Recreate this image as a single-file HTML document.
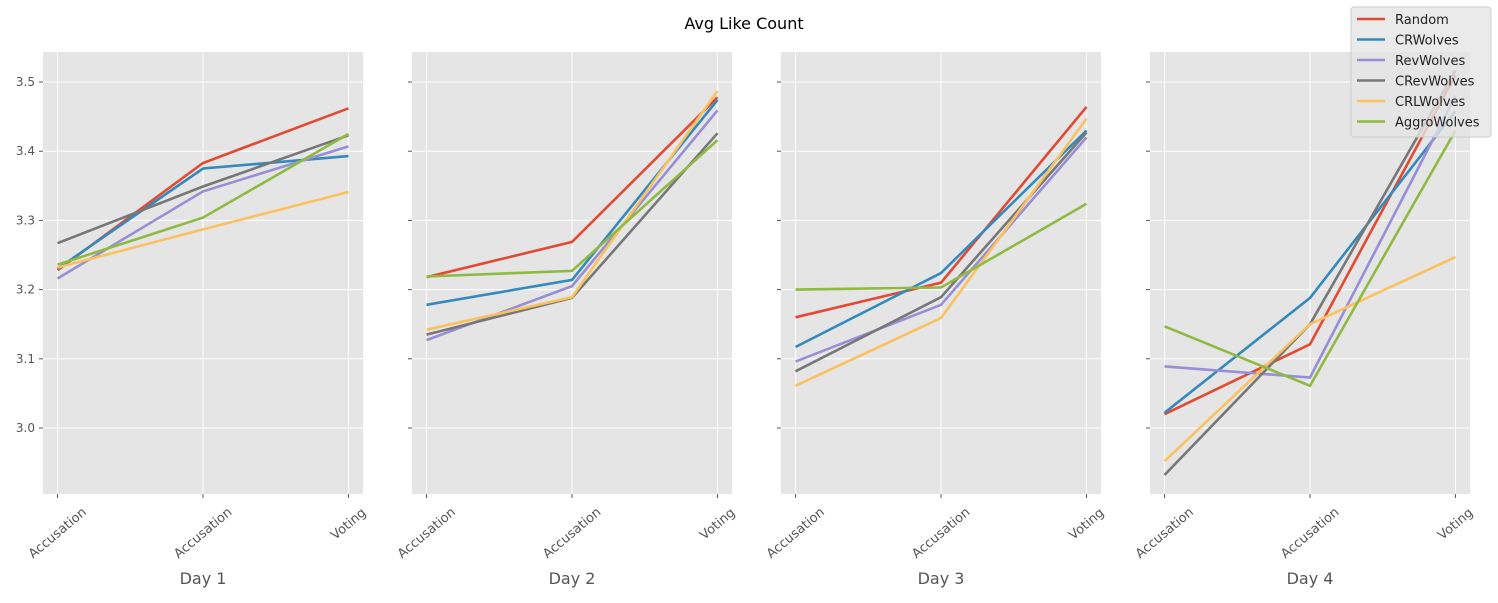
<!DOCTYPE html>
<html><head><meta charset="utf-8"><style>
body{margin:0;background:#fff;font-family:"Liberation Sans","DejaVu Sans",sans-serif}
</style></head><body>
<svg id="chart" width="1498" height="598" xmlns="http://www.w3.org/2000/svg" font-family="DejaVu Sans, Liberation Sans, sans-serif"></svg>
<script>
const seriesNames=["Random","CRWolves","RevWolves","CRevWolves","CRLWolves","AggroWolves"];
const colors=["#E24A33","#348ABD","#988ED5","#777777","#FBC15E","#8EBA42"];
const categories=["Accusation","Accusation","Voting"];
const days=["Day 1","Day 2","Day 3","Day 4"];
const yTicks=[3.0,3.1,3.2,3.3,3.4,3.5];
const day1=[[3.228,3.383,3.462],[3.230,3.375,3.393],[3.216,3.342,3.407],[3.267,3.349,3.423],[3.232,3.287,3.341],[3.236,3.304,3.425]];
const day2=[[3.218,3.269,3.478],[3.178,3.214,3.474],[3.127,3.205,3.459],[3.135,3.188,3.426],[3.142,3.189,3.487],[3.219,3.227,3.416]];
const day3=[[3.160,3.210,3.464],[3.117,3.224,3.430],[3.096,3.178,3.420],[3.082,3.189,3.427],[3.061,3.159,3.447],[3.200,3.203,3.324]];
const day4=[[3.020,3.121,3.510],[3.022,3.188,3.458],[3.089,3.073,3.480],[2.932,3.150,3.517],[2.952,3.150,3.247],[3.147,3.061,3.430]];
const allDays=[day1,day2,day3,day4];

const svg=document.getElementById('chart');
const NS="http://www.w3.org/2000/svg";
function mk(t,a,p){const e=document.createElementNS(NS,t);for(const k in a)e.setAttribute(k,a[k]);(p||svg).appendChild(e);return e;}
const panelX=[43,412,781,1150],PW=320,PT=52,PB=494;
const yMin=2.9046,yMax=3.5434;
function yS(v){return PB-(v-yMin)/(yMax-yMin)*(PB-PT);}
function xS(i,p){return panelX[p]+(i+0.1)/2.2*PW;}

const title=mk('text',{x:744,y:29,'text-anchor':'middle','font-size':16,fill:'#000'});
title.textContent='Avg Like Count';



allDays.forEach((data,p)=>{
  const g=mk('g',{});
  
  
  mk('rect',{x:panelX[p],y:PT,width:PW,height:PB-PT,fill:'#E5E5E5'},g);
  yTicks.forEach(t=>{
    const y=yS(t);
    mk('line',{x1:panelX[p],x2:panelX[p]+PW,y1:y,y2:y,stroke:'#fff','stroke-width':1},g);
    mk('line',{x1:panelX[p]-4,x2:panelX[p],y1:y,y2:y,stroke:'#555','stroke-width':1},g);
    if(p===0){const tl=mk('text',{x:panelX[p]-8,y:y+4,'text-anchor':'end','font-size':12,fill:'#555'},g);tl.textContent=t.toFixed(1);
      
      }
  });
  categories.forEach((c,i)=>{
    const x=xS(i,p);
    mk('line',{x1:x,x2:x,y1:PT,y2:PB,stroke:'#fff','stroke-width':1},g);
    mk('line',{x1:x,x2:x,y1:PB,y2:PB+4,stroke:'#555','stroke-width':1},g);
    const cy=c==='Voting'?PB+30:PB+39;
    const tl=mk('text',{x:x,y:cy+4,'text-anchor':'middle','font-size':13,fill:'#555',transform:`rotate(-40 ${x} ${cy})`},g);
    tl.textContent=c;
    
    
  });
  const xl=mk('text',{x:panelX[p]+PW/2,y:584,'text-anchor':'middle','font-size':16,fill:'#555'},g);
  xl.textContent=days[p];
  
  
  data.forEach((s,k)=>{
    const pts=s.map((v,i)=>xS(i,p).toFixed(1)+','+yS(v).toFixed(1)).join(' ');
    const l=mk('polyline',{points:pts,fill:'none',stroke:colors[k],'stroke-width':2.6},g);
    
    
  });
});

const lg=mk('g',{});


mk('rect',{x:1351,y:7,width:140,height:130,rx:3,fill:'#E5E5E5','fill-opacity':0.8,stroke:'#ccc'},lg);
seriesNames.forEach((n,k)=>{
  const y=19+k*20.5;
  mk('line',{x1:1357,x2:1385,y1:y,y2:y,stroke:colors[k],'stroke-width':2.6},lg);
  const t=mk('text',{x:1395,y:y+5,'font-size':13,fill:'#222'},lg);
  t.textContent=n;
  
  
});
</script>
</body></html>
